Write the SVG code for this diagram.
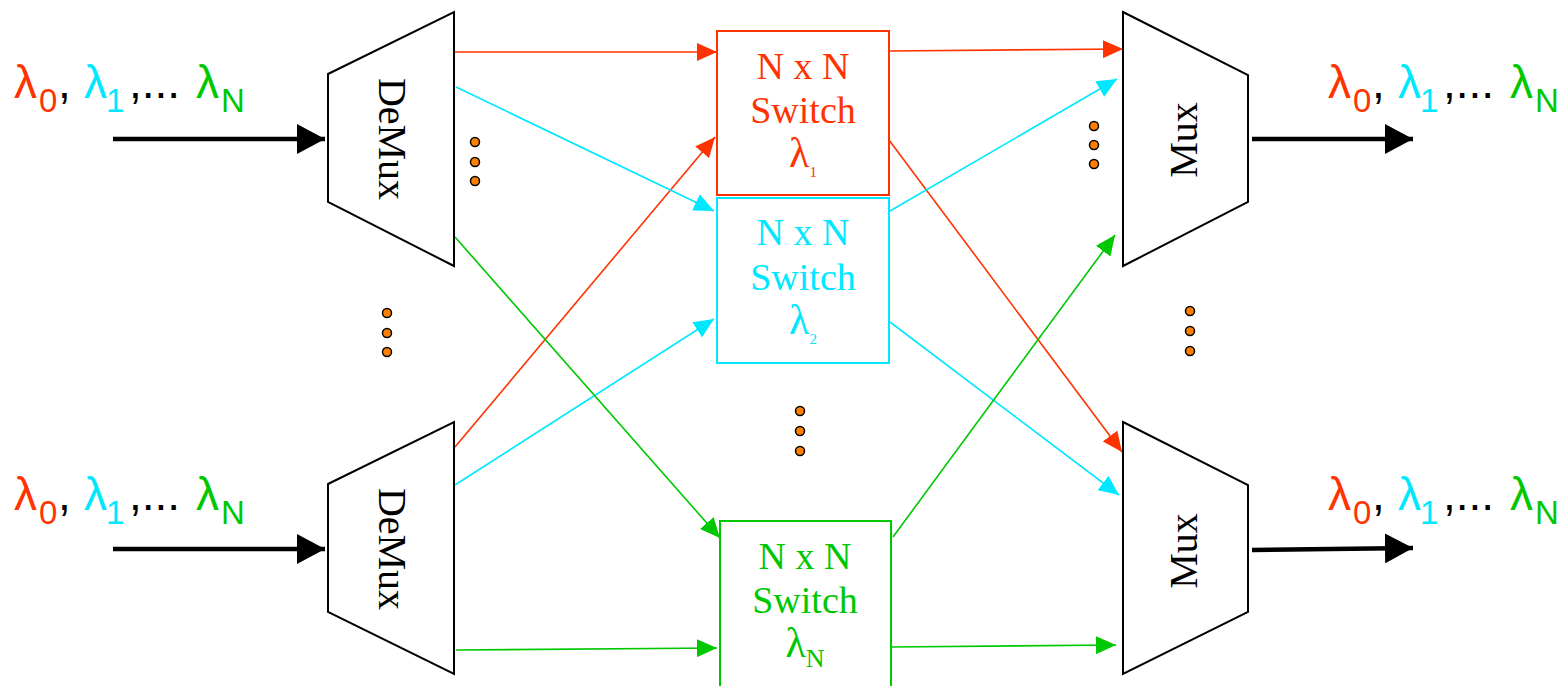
<svg xmlns="http://www.w3.org/2000/svg" width="1564" height="686" viewBox="0 0 1564 686">
  <style>
    .trap { fill: #ffffff; stroke: #000000; stroke-width: 2; }
    .unit { font-family: "Liberation Serif", "Times New Roman", serif; font-size: 40px; fill: #000000; }
    .sw { font-family: "Liberation Serif", "Times New Roman", serif; font-size: 38px; text-anchor: middle; }
    .red { fill: #ff3300; }
    .cyan { fill: #00e8ff; }
    .green { fill: #00c800; }
    .blk { fill: #000000; }
    .lam { font-family: "Liberation Sans", Arial, sans-serif; font-size: 46px; }
    .sub { font-size: 33px; }
    .box { fill: #ffffff; stroke-width: 2; }
    .link { fill: none; stroke-width: 1.6; }
    .thick { fill: none; stroke: #000000; stroke-width: 4.5; }
    .dot { fill: #ff8000; stroke: #000000; stroke-width: 1.5; }
  </style>
  <defs>
    <marker id="ah-red" markerUnits="userSpaceOnUse" markerWidth="20" markerHeight="18" refX="20" refY="9" orient="auto">
      <path d="M0,0 L20,9 L0,18 z" fill="#ff3300"/>
    </marker>
    <marker id="ah-cyan" markerUnits="userSpaceOnUse" markerWidth="20" markerHeight="18" refX="20" refY="9" orient="auto">
      <path d="M0,0 L20,9 L0,18 z" fill="#00e8ff"/>
    </marker>
    <marker id="ah-green" markerUnits="userSpaceOnUse" markerWidth="20" markerHeight="18" refX="20" refY="9" orient="auto">
      <path d="M0,0 L20,9 L0,18 z" fill="#00c800"/>
    </marker>
    <marker id="ah-black" markerUnits="userSpaceOnUse" markerWidth="28" markerHeight="30" refX="28" refY="15" orient="auto">
      <path d="M0,0 L28,15 L0,30 z" fill="#000000"/>
    </marker>
  </defs>

  <!-- wavelength channels between demultiplexers, switches and multiplexers -->
  <g id="connectors">
    <g stroke="#ff3300" class="link" marker-end="url(#ah-red)">
      <line x1="455" y1="52" x2="717" y2="52"/>
      <line x1="455" y1="447" x2="715" y2="137"/>
      <line x1="890" y1="51" x2="1123" y2="49"/>
      <line x1="889" y1="140" x2="1122" y2="452"/>
    </g>
    <g stroke="#00e8ff" class="link" marker-end="url(#ah-cyan)">
      <line x1="456" y1="87" x2="714" y2="211"/>
      <line x1="455" y1="485" x2="714" y2="319"/>
      <line x1="890" y1="211" x2="1117" y2="79"/>
      <line x1="890" y1="322" x2="1119" y2="495"/>
    </g>
    <g stroke="#00c800" class="link" marker-end="url(#ah-green)">
      <line x1="455" y1="237" x2="720" y2="538"/>
      <line x1="456" y1="650" x2="717" y2="648"/>
      <line x1="893" y1="537" x2="1115" y2="235"/>
      <line x1="891" y1="647" x2="1116" y2="645"/>
    </g>
    <g marker-end="url(#ah-black)">
      <line class="thick" x1="113" y1="139" x2="325" y2="139"/>
      <line class="thick" x1="113" y1="549" x2="325" y2="549"/>
      <line class="thick" x1="1252" y1="139" x2="1413" y2="139"/>
      <line class="thick" x1="1252" y1="550" x2="1413" y2="548"/>
    </g>
  </g>

  <!-- input wavelength labels -->
  <g id="label-in-top">
    <text class="lam" y="98"><tspan class="red" x="14">λ</tspan><tspan class="red sub" x="39" y="112">0</tspan><tspan class="blk" x="58" y="98">,</tspan><tspan class="cyan" x="84">λ</tspan><tspan class="cyan sub" x="106" y="112">1</tspan><tspan class="blk" x="129" y="98">,...</tspan><tspan class="green" x="196">λ</tspan><tspan class="green sub" x="221" y="112">N</tspan></text>
  </g>
  <g id="label-in-bottom">
    <text class="lam" y="510"><tspan class="red" x="14">λ</tspan><tspan class="red sub" x="39" y="524">0</tspan><tspan class="blk" x="58" y="510">,</tspan><tspan class="cyan" x="84">λ</tspan><tspan class="cyan sub" x="106" y="524">1</tspan><tspan class="blk" x="129" y="510">,...</tspan><tspan class="green" x="196">λ</tspan><tspan class="green sub" x="221" y="524">N</tspan></text>
  </g>

  <!-- output wavelength labels -->
  <g id="label-out-top">
    <text class="lam" y="98"><tspan class="red" x="1328">λ</tspan><tspan class="red sub" x="1353" y="112">0</tspan><tspan class="blk" x="1372" y="98">,</tspan><tspan class="cyan" x="1398">λ</tspan><tspan class="cyan sub" x="1420" y="112">1</tspan><tspan class="blk" x="1443" y="98">,...</tspan><tspan class="green" x="1510">λ</tspan><tspan class="green sub" x="1535" y="112">N</tspan></text>
  </g>
  <g id="label-out-bottom">
    <text class="lam" y="510"><tspan class="red" x="1328">λ</tspan><tspan class="red sub" x="1353" y="524">0</tspan><tspan class="blk" x="1372" y="510">,</tspan><tspan class="cyan" x="1398">λ</tspan><tspan class="cyan sub" x="1420" y="524">1</tspan><tspan class="blk" x="1443" y="510">,...</tspan><tspan class="green" x="1510">λ</tspan><tspan class="green sub" x="1535" y="524">N</tspan></text>
  </g>

  <!-- demultiplexers -->
  <g id="demux-top">
    <polygon class="trap" points="328,74 454,12 454,266 328,202"/>
    <text class="unit" text-anchor="middle" transform="translate(379,139) rotate(90)">DeMux</text>
  </g>
  <g id="demux-bottom">
    <polygon class="trap" points="328,484 454,422 454,674 328,612"/>
    <text class="unit" text-anchor="middle" transform="translate(379,549) rotate(90)">DeMux</text>
  </g>

  <!-- per-wavelength switches -->
  <g id="switch-1">
    <rect class="box" x="717" y="31" width="172" height="164" stroke="#ff3300"/>
    <text class="sw red" x="803" y="79">N x N</text>
    <text class="sw red" x="803" y="123">Switch</text>
    <text class="sw red" x="803" y="167"><tspan font-size="42">λ</tspan><tspan font-size="15" dy="10">1</tspan></text>
  </g>
  <g id="switch-2">
    <rect class="box" x="717" y="198" width="172" height="165" stroke="#00e8ff"/>
    <text class="sw cyan" x="803" y="245">N x N</text>
    <text class="sw cyan" x="803" y="290">Switch</text>
    <text class="sw cyan" x="803" y="334"><tspan font-size="42">λ</tspan><tspan font-size="15" dy="10">2</tspan></text>
  </g>
  <g id="switch-n">
    <rect class="box" x="720" y="521" width="171" height="168" stroke="#00c800"/>
    <text class="sw green" x="805" y="569">N x N</text>
    <text class="sw green" x="805" y="613">Switch</text>
    <text class="sw green" x="805" y="657"><tspan font-size="42">λ</tspan><tspan font-size="26" dy="10">N</tspan></text>
  </g>

  <!-- multiplexers -->
  <g id="mux-top">
    <polygon class="trap" points="1123,12 1248,75 1248,202 1123,266"/>
    <text class="unit" text-anchor="middle" transform="translate(1197,140) rotate(-90)">Mux</text>
  </g>
  <g id="mux-bottom">
    <polygon class="trap" points="1123,422 1248,485 1248,612 1123,674"/>
    <text class="unit" text-anchor="middle" transform="translate(1197,551) rotate(-90)">Mux</text>
  </g>

  <!-- ellipsis markers -->
  <g id="dots-demux-out">
    <circle class="dot" cx="475" cy="142" r="4.5"/>
    <circle class="dot" cx="475" cy="162" r="4.5"/>
    <circle class="dot" cx="475" cy="181" r="4.5"/>
  </g>
  <g id="dots-demux">
    <circle class="dot" cx="387" cy="313" r="4.5"/>
    <circle class="dot" cx="387" cy="333" r="4.5"/>
    <circle class="dot" cx="387" cy="352" r="4.5"/>
  </g>
  <g id="dots-switch">
    <circle class="dot" cx="800" cy="411" r="4.5"/>
    <circle class="dot" cx="800" cy="431" r="4.5"/>
    <circle class="dot" cx="800" cy="451" r="4.5"/>
  </g>
  <g id="dots-mux-in">
    <circle class="dot" cx="1094" cy="126" r="4.5"/>
    <circle class="dot" cx="1094" cy="145" r="4.5"/>
    <circle class="dot" cx="1094" cy="164" r="4.5"/>
  </g>
  <g id="dots-mux">
    <circle class="dot" cx="1190" cy="311" r="4.5"/>
    <circle class="dot" cx="1190" cy="331" r="4.5"/>
    <circle class="dot" cx="1190" cy="351" r="4.5"/>
  </g>
</svg>
